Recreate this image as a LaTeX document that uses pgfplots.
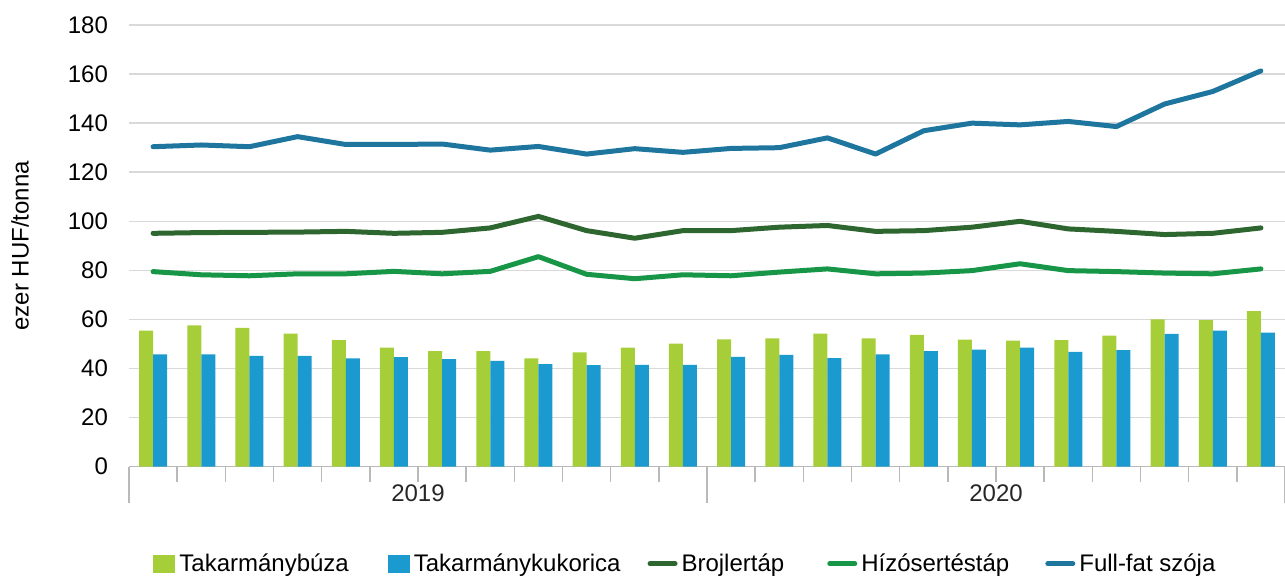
\documentclass[border=0pt]{standalone}
\usepackage{fontspec}
\setmainfont{Liberation Sans}
\usepackage{pgfplots}
\usepackage{pgfplotstable}
\pgfplotsset{compat=1.18}

\definecolor{buza}{RGB}{166,206,57}
\definecolor{kuk}{RGB}{27,154,208}
\definecolor{broj}{RGB}{46,102,48}
\definecolor{hizo}{RGB}{24,150,72}
\definecolor{szoja}{RGB}{30,118,158}

\pgfplotsset{
  negyzet legend/.style={legend image code/.code={\fill[##1] (0pt,-4.5pt) rectangle (11pt,4.5pt);}},
  vonal legend/.style={legend image code/.code={\draw[##1] (0pt,0pt) -- (12.5pt,0pt);}},
}

% havi adatok, 2019-01 ... 2020-12
\pgfplotstableread{
m  buza  kuk   broj   hizo  szoja
0  55.5  45.8  95.1   79.5  130.4
1  57.6  45.8  95.4   78.2  131.1
2  56.6  45.2  95.5   77.8  130.4
3  54.2  45.2  95.6   78.6  134.5
4  51.6  44.1  95.9   78.6  131.3
5  48.5  44.6  95.1   79.6  131.3
6  47.1  43.8  95.5   78.6  131.5
7  47.1  43.1  97.3   79.6  129.0
8  44.1  41.8  102.0  85.6  130.5
9  46.6  41.4  96.2   78.4  127.4
10 48.5  41.5  93.1   76.6  129.6
11 50.2  41.5  96.2   78.2  128.1
12 51.9  44.8  96.2   77.8  129.7
13 52.3  45.6  97.6   79.3  130.0
14 54.2  44.2  98.3   80.6  134.0
15 52.3  45.8  95.9   78.6  127.4
16 53.7  47.1  96.2   78.9  136.9
17 51.8  47.7  97.6   79.9  140.0
18 51.4  48.5  100.0  82.7  139.3
19 51.6  46.8  96.9   79.9  140.7
20 53.4  47.5  95.9   79.5  138.6
21 60.0  54.1  94.6   78.9  147.8
22 59.7  55.5  95.1   78.6  152.9
23 63.4  54.6  97.3   80.6  161.3
}\adat

\begin{document}
\begin{tikzpicture}
\begin{axis}[
  scale only axis,
  width=578pt, height=220.85pt,
  xmin=-0.5, xmax=23.5, ymin=0, ymax=180,
  clip=false,
  font=\fontsize{12}{14}\selectfont,
  /pgf/number format/assume math mode=true,
  ytick={0,20,...,180},
  xtick={0.5,1.5,...,22.5},
  xticklabels={},
  extra x ticks={-0.5,11.5,23.5},
  extra x tick labels={},
  extra x tick style={major tick length=18pt},
  axis lines*=left,
  y axis line style={draw=none},
  x axis line style={draw=gray!55, line width=0.8pt},
  ymajorgrids,
  grid style={draw=gray!30, line width=0.8pt},
  tick align=outside,
  major tick length=7.5pt,
  ytick style={draw=none},
  xtick style={draw=gray!55, line width=0.8pt},
  yticklabel style={anchor=east, xshift=0.5pt},
  ylabel={ezer HUF/tonna},
  every axis y label/.style={at={(axis description cs:0,0.5)}, xshift=-54.5pt, rotate=90, anchor=center},
  legend columns=-1,
  legend style={draw=none, fill=none, at={(axis description cs:0,0)}, anchor=west,
    xshift=9pt, yshift=-48.5pt, nodes={inner sep=0.5pt},
    /tikz/every odd column/.append style={column sep=1.5pt},
    font=\fontsize{12}{14}\selectfont},
]
\addplot[ybar, bar width=7pt, bar shift=-3.5pt, fill=buza, draw=none, negyzet legend]
  table[x=m, y=buza] {\adat};
\addlegendentry{Takarmánybúza\rule{19pt}{0pt}}
\addplot[ybar, bar width=7pt, bar shift=3.5pt, fill=kuk, draw=none, negyzet legend]
  table[x=m, y=kuk] {\adat};
\addlegendentry{Takarmánykukorica\rule{13pt}{0pt}}
\addplot[sharp plot, broj, line width=2.5pt, line join=round, line cap=round, vonal legend]
  table[x=m, y=broj] {\adat};
\addlegendentry{Brojlertáp\rule{21pt}{0pt}}
\addplot[sharp plot, hizo, line width=2.5pt, line join=round, line cap=round, vonal legend]
  table[x=m, y=hizo] {\adat};
\addlegendentry{Hízósertéstáp\rule{17.5pt}{0pt}}
\addplot[sharp plot, szoja, line width=2.5pt, line join=round, line cap=round, vonal legend]
  table[x=m, y=szoja] {\adat};
\addlegendentry{Full-fat szója}

\node[text=black!85] at (axis cs:5.5,0) [yshift=-13.2pt] {2019};
\node[text=black!85] at (axis cs:17.5,0) [yshift=-13.2pt] {2020};
\end{axis}
\pgfresetboundingbox
\path (-64.5pt,-54.65pt) rectangle (578pt,233.35pt);
\end{tikzpicture}
\end{document}
